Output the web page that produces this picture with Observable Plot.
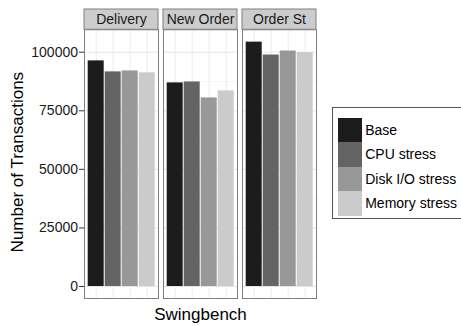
<!DOCTYPE html>
<html>
<head>
<meta charset="utf-8">
<script src="https://cdn.jsdelivr.net/npm/d3@7"></script>
<script src="https://cdn.jsdelivr.net/npm/@observablehq/plot@0.6"></script>
<style>
  html, body { margin: 0; padding: 0; background: #fff; }
  #wrap { position: relative; width: 461px; height: 326px; font-family: "Liberation Sans", Arial, Helvetica, sans-serif; }
  #legend { position: absolute; left: 331.5px; top: 106.5px; width: 140px; height: 112px; border: 1px solid #555; box-sizing: border-box; background: #fff; }
  .row { position: absolute; left: 5px; height: 24.5px; display: flex; align-items: center; }
  .key { width: 24.7px; height: 24.5px; }
  .lab { margin-left: 3px; font-size: 14px; color: #000; white-space: nowrap; }
</style>
</head>
<body>
<div id="wrap"><div id="chart"></div><div id="legend"></div></div>
<script>
const benchmarks = ["Delivery", "New Order", "Order St"];
const conditions = ["Base", "CPU stress", "Disk I/O stress", "Memory stress"];
const delivery = [96300, 91600, 92000, 91200];
const newOrder = [86900, 87300, 80500, 83500];
const orderSt = [104300, 98800, 100500, 99800];
const fillColors = ["#1c1c1c", "#646464", "#989898", "#cbcbcb"];
const yTicks = [0, 25000, 50000, 75000, 100000];
const yMinorTicks = [12500, 37500, 62500, 87500];
const xTitle = "Swingbench";
const yTitle = "Number of Transactions";

const series = [delivery, newOrder, orderSt];
const data = [];
benchmarks.forEach((b, i) => conditions.forEach((c, j) => data.push({bench: b, cond: c, value: series[i][j]})));

const W = 461, H = 326;
const mTop = 29.3, mBottom = 28, mLeft = 83.3, mRight = 143.7;
const yDomain = [-5122, 109560];
const pxPerUnit = (H - mTop - mBottom) / (yDomain[1] - yDomain[0]);
const stripTop = yDomain[1] + 20.3 / pxPerUnit;

const chart = Plot.plot({
  width: W, height: H,
  marginTop: mTop, marginBottom: mBottom, marginLeft: mLeft, marginRight: mRight,
  style: {fontFamily: '"Liberation Sans", Arial, Helvetica, sans-serif', background: "white", overflow: "visible"},
  fx: {domain: benchmarks, paddingInner: 0.057, paddingOuter: 0, axis: null, label: null},
  x: {domain: conditions, paddingInner: 0.055, paddingOuter: 0.12, axis: null, label: null},
  y: {domain: yDomain, label: null},
  color: {domain: conditions, range: fillColors},
  marks: [
    Plot.gridY(yMinorTicks, {stroke: "#f2f2f2", strokeOpacity: 1, strokeWidth: 0.8}),
    Plot.gridY(yTicks, {stroke: "#e5e5e5", strokeOpacity: 1, strokeWidth: 1}),
    Plot.gridX(conditions, {stroke: "#ebebeb", strokeOpacity: 1, strokeWidth: 1}),
    Plot.barY(data, {fx: "bench", x: "cond", y: "value", fill: "cond"}),
    Plot.frame({stroke: "#7f7f7f", strokeWidth: 1}),
    Plot.rect([0], {y1: yDomain[1], y2: stripTop, fill: "#cccccc", stroke: "#7f7f7f", strokeWidth: 1}),
    Plot.text(benchmarks, {fx: d => d, text: d => d, frameAnchor: "top", lineAnchor: "middle", dy: -10, fontSize: 14, fill: "#1a1a1a"}),
    Plot.axisY(yTicks, {tickFormat: d3.format("d"), tickSize: 5, tickPadding: 1.5, fontSize: 14, stroke: "#333", fill: "#1a1a1a", label: null}),
    Plot.text([yTitle], {text: d => d, facet: "super", frameAnchor: "left", textAnchor: "middle", lineAnchor: "middle", rotate: -90, dx: -67, dy: -2, fontSize: 17, fill: "#000"}),
    Plot.text([xTitle], {text: d => d, facet: "super", frameAnchor: "bottom", textAnchor: "middle", lineAnchor: "middle", dy: 16, fontSize: 17, fill: "#000"})
  ]
});
document.getElementById("chart").appendChild(chart);

const legend = document.getElementById("legend");
conditions.forEach((c, i) => {
  const row = document.createElement("div");
  row.className = "row";
  row.style.top = (10 + i * 24.5) + "px";
  const key = document.createElement("div");
  key.className = "key";
  key.style.background = fillColors[i];
  const lab = document.createElement("span");
  lab.className = "lab";
  lab.textContent = c;
  row.appendChild(key); row.appendChild(lab);
  legend.appendChild(row);
});
</script>
</body>
</html>
